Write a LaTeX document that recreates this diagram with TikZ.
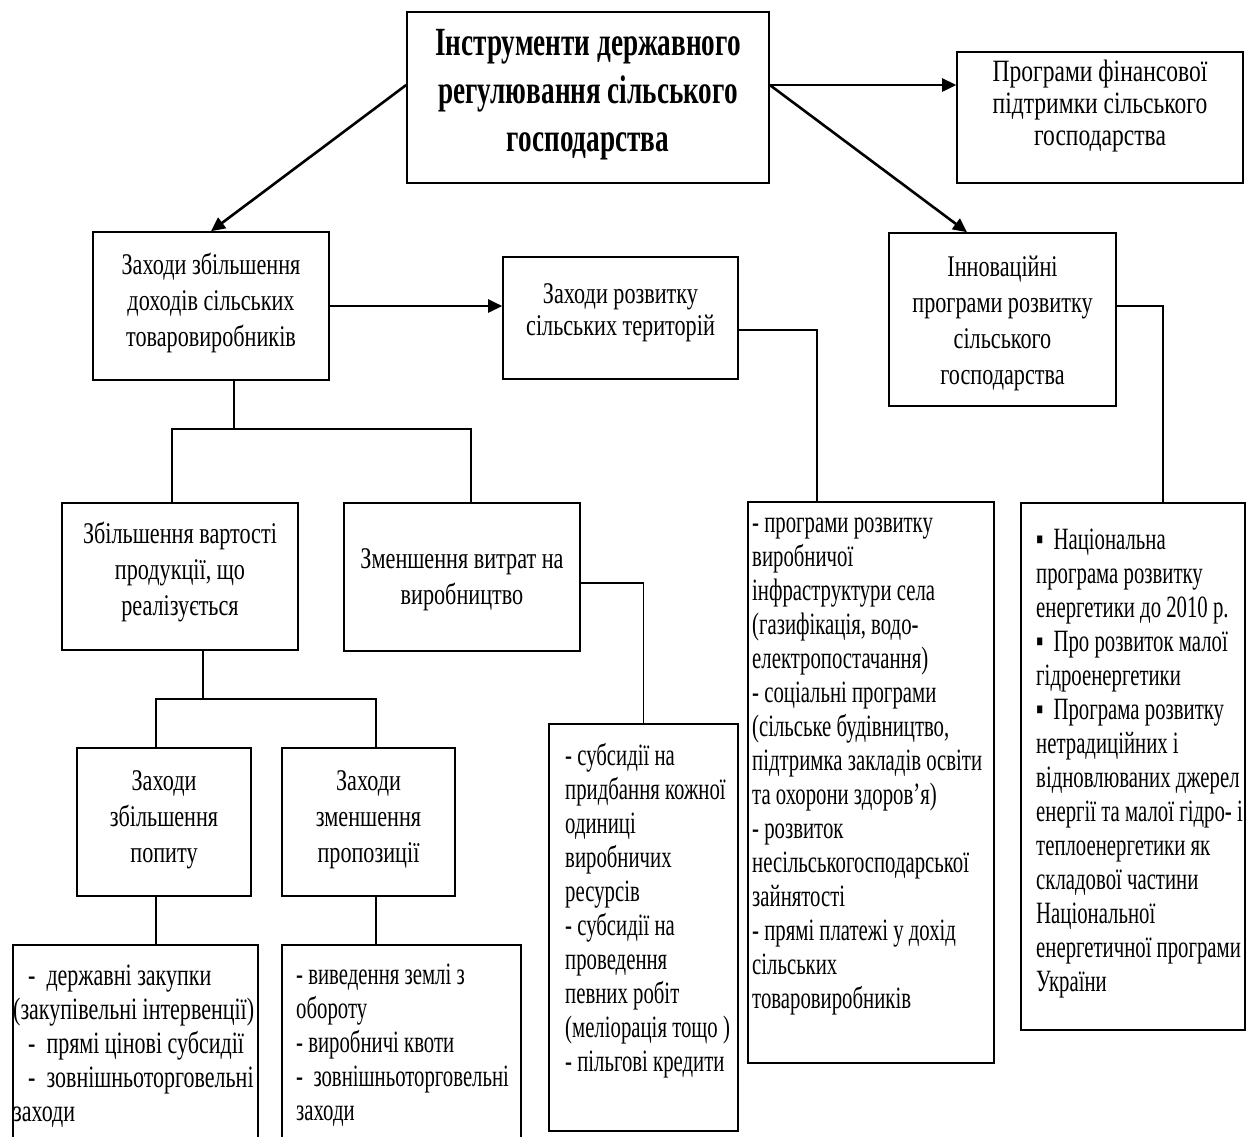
\documentclass[tikz,border=0pt]{standalone}
\usepackage{fontspec}
\setmainfont{Liberation Serif}[FakeStretch=0.74]
\newfontfamily\titlefont{Liberation Serif}[FakeStretch=0.68]
\newfontfamily\finfont{Liberation Serif}[FakeStretch=0.76]
\newfontfamily\listfont{Liberation Serif}[FakeStretch=0.67]
\newfontfamily\blfont{Liberation Serif}[FakeStretch=0.71]
\usetikzlibrary{arrows.meta}
\newcommand{\fstrut}{\rule{0pt}{22pt}}
\begin{document}
\begin{tikzpicture}[x=1pt,y=-1pt,
  box/.style={draw, line width=1.6pt, inner sep=0pt},
  hollow/.style={draw=none, inner sep=0pt},
  ctext/.style={inner sep=0pt, align=center, font=\fontsize{30}{36}\selectfont},
  ctextb/.style={inner sep=0pt, align=center, font=\fontsize{30}{32}\selectfont},
  fintext/.style={inner sep=0pt, align=center, font=\finfont\fontsize{31}{32}\selectfont},
  ttext/.style={inner sep=0pt, align=center, font=\titlefont\bfseries\fontsize{40}{48}\selectfont},
  ltext/.style={inner sep=0pt, align=left, anchor=north west, font=\listfont\fontsize{31}{34}\selectfont},
  bltext/.style={ltext, font=\blfont\fontsize{31}{34}\selectfont},
  arr/.style={line width=2.6pt, -{Triangle[length=14pt,width=13pt]}},
  conn/.style={line width=1.3pt}]
\useasboundingbox (0,0) rectangle (1246,1136);

% boxes
\node[box, minimum width=362pt, minimum height=171pt] (main) at (588,97.5) {};
\node[box, minimum width=286pt, minimum height=131pt] (fin) at (1100,117.5) {};
\node[box, minimum width=236pt, minimum height=148pt] (z1) at (211,306) {};
\node[box, minimum width=235pt, minimum height=122pt] (rt) at (620.5,318) {};
\node[box, minimum width=227pt, minimum height=173pt] (innov) at (1002.5,319.5) {};
\node[box, minimum width=236pt, minimum height=147pt] (zv) at (180,576.5) {};
\node[box, minimum width=236pt, minimum height=148pt] (zvy) at (462,577) {};
\node[box, minimum width=174pt, minimum height=148pt] (zp) at (164,822) {};
\node[box, minimum width=173pt, minimum height=148pt] (zz) at (368.5,822) {};
\node[box, minimum width=189pt, minimum height=407pt] (s) at (643.5,927.5) {};
\node[box, minimum width=246pt, minimum height=561pt] (rl) at (871,782.5) {};
\node[box, minimum width=224pt, minimum height=527pt] (nat) at (1133,766.5) {};
\node[hollow, minimum width=245pt, minimum height=205pt] (bl) at (135.5,1047.5) {};
\node[hollow, minimum width=239pt, minimum height=205pt] (br) at (401.5,1047.5) {};
\draw[line width=1.6pt] (bl.south west) -- (bl.north west) -- (bl.north east) -- (bl.south east);
\draw[line width=1.6pt] (br.south west) -- (br.north west) -- (br.north east) -- (br.south east);

% texts
\node[ttext] (maint) at (588,95) {Інструменти державного\\регулювання сільського\\господарства};
\node[fintext] (fint) at (1100,106.5) {Програми фінансової\\підтримки сільського\\господарства};
\node[ctext] (z1t) at (211,303) {Заходи збільшення\\доходів сільських\\товаровиробників};
\node[ctextb] (rtt) at (620.5,312.5) {Заходи розвитку\\сільських територій};
\node[ctext] (innovt) at (1002.5,323.5) {Інноваційні\\програми розвитку\\сільського\\господарства};
\node[ctext] (zvt) at (180,571.5) {Збільшення вартості\\продукції, що\\реалізується};
\node[ctext] (zvyt) at (462,580) {Зменшення витрат на\\виробництво};
\node[ctext] (zpt) at (164,819.5) {Заходи\\збільшення\\попиту};
\node[ctext] (zzt) at (368.5,819.5) {Заходи\\зменшення\\пропозиції};

\node[bltext] (blt) at (13,963) {\fstrut\hspace*{15pt}-\ \ державні закупки\\(закупівельні інтервенції)\\\hspace*{15pt}-\ \ прямі цінові субсидії\\\hspace*{15pt}-\ \ зовнішньоторговельні\\заходи};
\node[ltext] (brt) at (296,962) {\fstrut- виведення землі з\\обороту\\- виробничі квоти\\-\ \ зовнішньоторговельні\\заходи};
\node[ltext] (st) at (565,743) {\fstrut- субсидії на\\придбання кожної\\одиниці\\виробничих\\ресурсів\\- субсидії на\\проведення\\певних робіт\\(меліорація тощо )\\- пільгові кредити};
\node[ltext] (rlt) at (752,510) {\fstrut- програми розвитку\\виробничої\\інфраструктури села\\(газифікація, водо-\\електропостачання)\\- соціальні програми\\(сільське будівництво,\\підтримка закладів освіти\\та охорони здоров’я)\\- розвиток\\несільськогосподарської\\зайнятості\\- прямі платежі у дохід\\сільських\\товаровиробників};
\node[ltext] (natt) at (1036,527) {\fstrut▪\hspace{10pt}Національна\\програма розвитку\\енергетики до 2010 р.\\▪\hspace{10pt}Про розвиток малої\\гідроенергетики\\▪\hspace{10pt}Програма розвитку\\нетрадиційних і\\відновлюваних джерел\\енергії та малої гідро- і\\теплоенергетики як\\складової частини\\Національної\\енергетичної програми\\України};

% arrows
\coordinate (ml) at ([yshift=12.5pt]main.west);
\coordinate (mr) at ([yshift=12.5pt]main.east);
\draw[arr] (ml) -- (z1.north);
\draw[arr] (mr) -- ([xshift=-35.5pt]innov.north);
\draw[arr] (mr) -- (mr -| fin.west);
\draw[arr] (z1.east) -- (z1.east -| rt.west);

% connectors
\coordinate (rte) at ([yshift=-12pt]rt.east);
\coordinate (rln) at ([xshift=-54pt]rl.north);
\draw[conn] (rte) -| (rln);
\coordinate (ine) at ([yshift=13.5pt]innov.east);
\coordinate (natn) at ([xshift=30pt]nat.north);
\draw[conn] (ine) -| (natn);

\coordinate (b1) at (234,429);
\draw[conn] (z1.south -| b1) -- (b1);
\draw[conn] ([xshift=-8pt]zv.north) |- (b1) -| ([xshift=9pt]zvy.north);

\coordinate (b2) at (203,699);
\draw[conn] (zv.south -| b2) -- (b2);
\draw[conn] ([xshift=-8pt]zp.north) |- (b2) -| ([xshift=7.5pt]zz.north);

\coordinate (zvye) at ([yshift=-6pt]zvy.east);
\draw[conn] (zvye) -| (s.north);

\coordinate (zps) at ([xshift=-8pt]zp.south);
\coordinate (zzs) at ([xshift=7.5pt]zz.south);
\draw[conn] (zps) -- (zps |- bl.north);
\draw[conn] (zzs) -- (zzs |- br.north);
\end{tikzpicture}
\end{document}
